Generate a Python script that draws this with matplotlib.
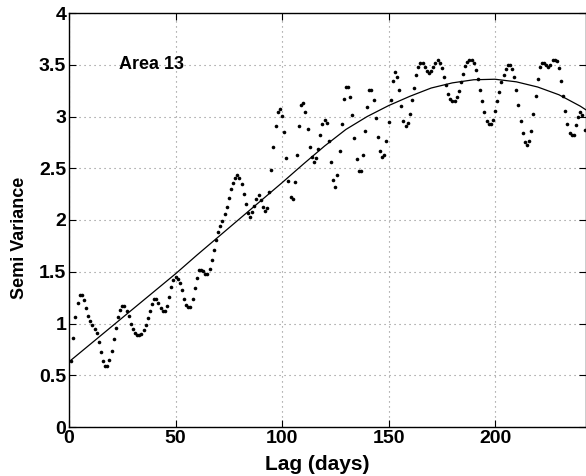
import matplotlib
matplotlib.use("Agg")
import matplotlib.pyplot as plt
import numpy as np

lag = np.arange(1, 243)
semivar = [
    0.64, 0.86, 1.06, 1.20, 1.28, 1.28, 1.23, 1.15, 1.07, 1.02,
    0.985, 0.95, 0.905, 0.82, 0.72, 0.64, 0.59, 0.59, 0.645, 0.73,
    0.85, 0.96, 1.06, 1.13, 1.17, 1.17, 1.12, 1.07, 1.00, 0.95,
    0.91, 0.886, 0.886, 0.895, 0.937, 0.985, 1.05, 1.12, 1.185, 1.24,
    1.24, 1.195, 1.15, 1.12, 1.12, 1.17, 1.256, 1.35, 1.42, 1.446,
    1.43, 1.39, 1.32, 1.24, 1.175, 1.155, 1.155, 1.24, 1.34, 1.44,
    1.52, 1.52, 1.51, 1.48, 1.48, 1.53, 1.61, 1.71, 1.81, 1.88,
    1.94, 1.99, 2.055, 2.13, 2.21, 2.30, 2.36, 2.41, 2.43, 2.41,
    2.35, 2.25, 2.15, 2.07, 2.03, 2.075, 2.14, 2.20, 2.24, 2.19,
    2.125, 2.09, 2.12, 2.27, 2.48, 2.71, 2.91, 3.04, 3.07, 3.005,
    2.85, 2.60, 2.38, 2.225, 2.20, 2.37, 2.63, 2.905, 3.11, 3.13,
    3.04, 2.88, 2.705, 2.605, 2.565, 2.60, 2.69, 2.82, 2.93, 2.97,
    2.94, 2.76, 2.56, 2.39, 2.32, 2.435, 2.67, 2.93, 3.17, 3.285,
    3.285, 3.185, 3.01, 2.79, 2.59, 2.475, 2.475, 2.63, 2.86, 3.09,
    3.255, 3.255, 3.16, 2.99, 2.80, 2.67, 2.61, 2.63, 2.76, 2.95,
    3.16, 3.34, 3.43, 3.385, 3.26, 3.10, 2.96, 2.91, 2.94, 3.02,
    3.155, 3.28, 3.40, 3.48, 3.52, 3.52, 3.48, 3.44, 3.42, 3.435,
    3.48, 3.52, 3.55, 3.52, 3.47, 3.385, 3.30, 3.22, 3.165, 3.145,
    3.145, 3.185, 3.25, 3.33, 3.415, 3.49, 3.53, 3.545, 3.545, 3.515,
    3.45, 3.36, 3.26, 3.15, 3.04, 2.96, 2.925, 2.925, 2.97, 3.05,
    3.15, 3.24, 3.33, 3.40, 3.46, 3.495, 3.495, 3.46, 3.385, 3.26,
    3.11, 2.96, 2.84, 2.75, 2.72, 2.76, 2.86, 3.02, 3.195, 3.36,
    3.48, 3.52, 3.52, 3.50, 3.48, 3.50, 3.545, 3.545, 3.54, 3.465,
    3.34, 3.20, 3.055, 2.93, 2.84, 2.82, 2.82, 2.915, 2.995, 3.04,
    3.015, 2.87,
]

# fitted model curve, read every 10 days of lag
fit_lag = [0, 10, 20, 30, 40, 50, 60, 70, 80, 90, 100, 110, 120, 130,
           140, 150, 160, 170, 180, 190, 200, 210, 220, 230, 240, 243]
fit_val = [0.63, 0.80, 0.97, 1.14, 1.31, 1.48, 1.66, 1.835, 2.01, 2.185, 2.36, 2.54, 2.715, 2.875,
           3.00, 3.105, 3.195, 3.275, 3.325, 3.355, 3.36, 3.335, 3.285, 3.21, 3.10, 3.06]

xticks = [0, 50, 100, 150, 200]
yticks = [0, 0.5, 1, 1.5, 2, 2.5, 3, 3.5, 4]
ytick_labels = ["0", "0.5", "1", "1.5", "2", "2.5", "3", "3.5", "4"]

plt.rcParams['font.family'] = ['Liberation Sans', 'DejaVu Sans']
plt.rcParams['font.weight'] = 'bold'

fig = plt.figure(figsize=(5.86, 4.76), dpi=100)
ax = fig.add_axes([69/586, 49/476, 1 - 69/586, 414/476])

ax.plot(lag, semivar, 'o', color='black', markersize=2.6, markeredgewidth=0)
ax.plot(fit_lag, fit_val, '-', color='black', linewidth=0.9)

ax.set_xlim(0, 242.7)
ax.set_ylim(0, 4)
ax.set_xticks(xticks)
ax.set_yticks(yticks)
ax.set_yticklabels(ytick_labels)
ax.tick_params(direction='in', length=5, width=0.8, labelsize=14, top=True, right=True, pad=2)
for lbl in ax.get_xticklabels() + ax.get_yticklabels():
    lbl.set_fontweight('bold')

ax.grid(True, color='#888888', linestyle=(0, (1, 3.5)), linewidth=0.8)
for s in ax.spines.values():
    s.set_linewidth(1.0)

ax.set_xlabel('Lag (days)', fontsize=15, fontweight='bold')
ax.xaxis.set_label_coords(0.48, -0.068)
ax.set_ylabel('Semi Variance', fontsize=13, fontweight='bold')
ax.yaxis.set_label_coords(-0.079, 0.457)
ax.text(23.5, 3.5, 'Area 13', fontsize=13, fontweight='bold', va='center', ha='left')

fig.savefig('out.png', dpi=100)
